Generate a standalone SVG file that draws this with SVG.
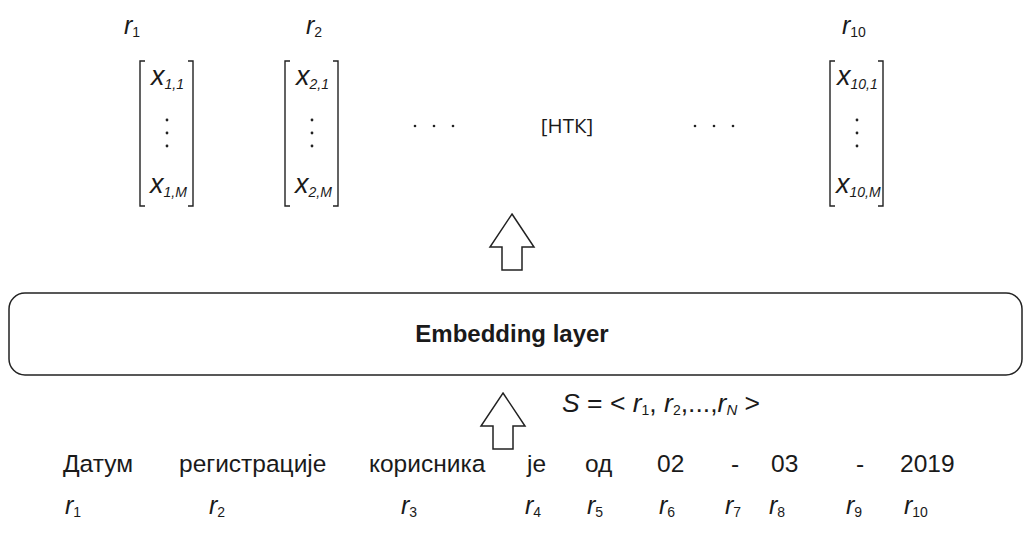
<svg xmlns="http://www.w3.org/2000/svg" width="1025" height="539" viewBox="0 0 1025 539">
  <style>
    .lbl { font-family: "Liberation Sans", Arial, sans-serif; fill: #1a1a1a; }
    .it { font-style: italic; }
    .word { font-family: "Liberation Sans", Arial, sans-serif; font-size: 24.5px; fill: #1a1a1a; }
    .rv { font-family: "Liberation Sans", Arial, sans-serif; font-size: 25px; font-style: italic; fill: #1a1a1a; }
    .xv { font-family: "Liberation Sans", Arial, sans-serif; font-size: 27px; font-style: italic; fill: #1a1a1a; }
    .sub { font-size: 14px; font-style: normal; }
    .xsub { font-size: 14px; font-style: italic; }
    .brk { fill: none; stroke: #222; stroke-width: 1.4; }
    .blk { fill: #fff; stroke: #222; stroke-width: 1.5; stroke-linejoin: miter; }
    .dot { fill: #222; }
  </style>

  <!-- top token labels -->
  <g id="top-labels">
    <text class="rv" x="124" y="34">r<tspan class="sub" dy="3">1</tspan></text>
    <text class="rv" x="306" y="34">r<tspan class="sub" dy="3">2</tspan></text>
    <text class="rv" x="842" y="34">r<tspan class="sub" dy="3">10</tspan></text>
  </g>

  <!-- embedding vector r1 -->
  <g id="vec-1">
    <path class="brk" d="M145,61 H140 V206 H145 M188,61 H193 V206 H188"/>
    <text class="xv" x="151" y="85">x<tspan class="xsub" dy="4">1,1</tspan></text>
    <circle class="dot" cx="167" cy="120" r="1.4"/>
    <circle class="dot" cx="167" cy="133" r="1.4"/>
    <circle class="dot" cx="167" cy="146" r="1.4"/>
    <text class="xv" x="150" y="193">x<tspan class="xsub" dy="4">1,M</tspan></text>
  </g>

  <!-- embedding vector r2 -->
  <g id="vec-2">
    <path class="brk" d="M290,61 H285 V206 H290 M333,61 H338 V206 H333"/>
    <text class="xv" x="296" y="85">x<tspan class="xsub" dy="4">2,1</tspan></text>
    <circle class="dot" cx="312" cy="120" r="1.4"/>
    <circle class="dot" cx="312" cy="133" r="1.4"/>
    <circle class="dot" cx="312" cy="146" r="1.4"/>
    <text class="xv" x="295" y="193">x<tspan class="xsub" dy="4">2,M</tspan></text>
  </g>

  <!-- ellipses and the [НТК] token -->
  <g id="middle">
    <circle class="dot" cx="415" cy="126" r="1.3"/>
    <circle class="dot" cx="434" cy="126" r="1.3"/>
    <circle class="dot" cx="453" cy="126" r="1.3"/>
    <text x="567" y="133" text-anchor="middle" font-family="'Open Sans', 'Noto Sans', sans-serif" font-size="20.5" fill="#1a1a1a">[НТК]</text>
    <circle class="dot" cx="695" cy="126" r="1.3"/>
    <circle class="dot" cx="714" cy="126" r="1.3"/>
    <circle class="dot" cx="733" cy="126" r="1.3"/>
  </g>

  <!-- embedding vector r10 -->
  <g id="vec-10">
    <path class="brk" d="M835,61 H830 V206 H835 M878,61 H883 V206 H878"/>
    <text class="xv" x="837" y="85">x<tspan class="xsub" dy="4">10,1</tspan></text>
    <circle class="dot" cx="857" cy="120" r="1.4"/>
    <circle class="dot" cx="857" cy="133" r="1.4"/>
    <circle class="dot" cx="857" cy="146" r="1.4"/>
    <text class="xv" x="836" y="193">x<tspan class="xsub" dy="4" font-size="13">10,M</tspan></text>
  </g>

  <!-- embedding layer block -->
  <g id="embedding-layer">
    <rect x="9" y="293" width="1013" height="82" rx="16" ry="16" fill="#fff" stroke="#222" stroke-width="1.5"/>
    <text class="lbl" x="512" y="342" text-anchor="middle" font-size="24" font-weight="bold">Embedding layer</text>
  </g>

  <!-- block arrows -->
  <g id="connectors">
    <polygon class="blk" points="512,214 534,247 522,247 522,270 502,270 502,247 490,247"/>
    <polygon class="blk" points="503,393 525,426 513,426 513,449 493,449 493,426 481,426"/>
  </g>

  <!-- sequence notation -->
  <g id="sequence">
    <text class="lbl" font-size="26.5" x="562" y="412"><tspan class="it">S</tspan> = &lt; <tspan class="it">r</tspan><tspan class="sub" font-size="15" dy="3">1</tspan><tspan dy="-3">, </tspan><tspan class="it">r</tspan><tspan class="sub" font-size="15" dy="3">2</tspan><tspan dy="-3">,...,</tspan><tspan class="it">r</tspan><tspan font-size="15" font-style="italic" dy="3">N</tspan><tspan dy="-3"> &gt;</tspan></text>
  </g>

  <!-- input tokens -->
  <g id="tokens">
    <text class="word" x="63" y="472">Датум</text>
    <text class="word" x="179" y="472">регистрације</text>
    <text class="word" x="369" y="472">корисника</text>
    <text class="word" x="527" y="472">je</text>
    <text class="word" x="585" y="472">од</text>
    <text class="word" x="657" y="472">02</text>
    <text class="word" x="731" y="472">-</text>
    <text class="word" x="771" y="472">03</text>
    <text class="word" x="856" y="472">-</text>
    <text class="word" x="900" y="472">2019</text>
  </g>

  <!-- token indices -->
  <g id="indices">
    <text class="rv" x="65" y="514">r<tspan class="sub" dy="3">1</tspan></text>
    <text class="rv" x="209" y="514">r<tspan class="sub" dy="3">2</tspan></text>
    <text class="rv" x="401" y="514">r<tspan class="sub" dy="3">3</tspan></text>
    <text class="rv" x="525" y="514">r<tspan class="sub" dy="3">4</tspan></text>
    <text class="rv" x="587" y="514">r<tspan class="sub" dy="3">5</tspan></text>
    <text class="rv" x="659" y="514">r<tspan class="sub" dy="3">6</tspan></text>
    <text class="rv" x="725" y="514">r<tspan class="sub" dy="3">7</tspan></text>
    <text class="rv" x="769" y="514">r<tspan class="sub" dy="3">8</tspan></text>
    <text class="rv" x="846" y="514">r<tspan class="sub" dy="3">9</tspan></text>
    <text class="rv" x="904" y="514">r<tspan class="sub" dy="3">10</tspan></text>
  </g>
</svg>
